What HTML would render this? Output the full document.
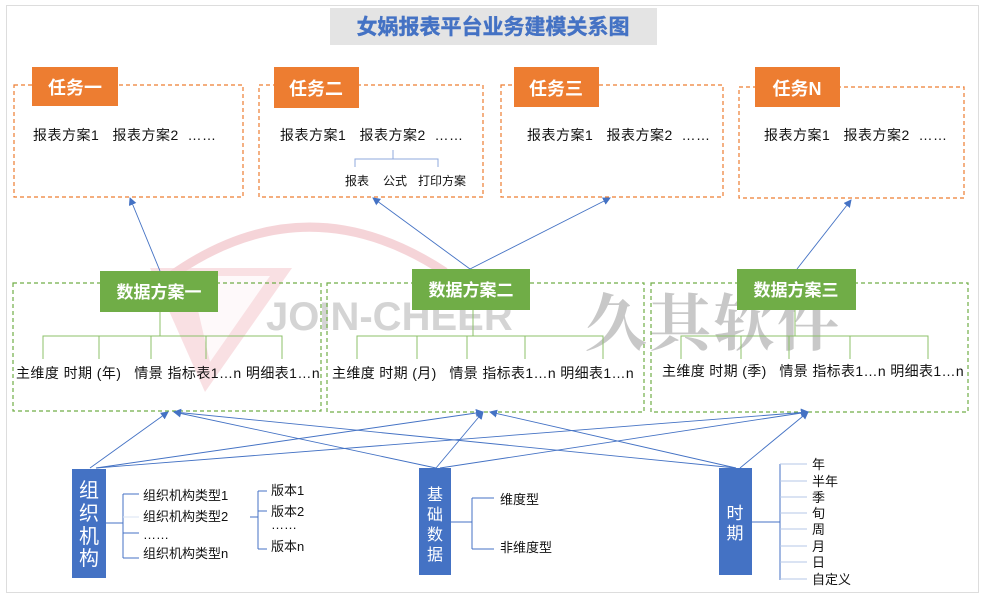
<!DOCTYPE html>
<html><head><meta charset="utf-8"><style>
html,body{margin:0;padding:0;background:#fff;}
svg{display:block;font-family:"Liberation Sans","Noto Sans CJK SC",sans-serif;}
</style></head><body>
<svg width="989" height="600" viewBox="0 0 989 600" xmlns="http://www.w3.org/2000/svg">
<defs>
<marker id="ar" markerWidth="8" markerHeight="8" refX="7" refY="4" orient="auto" markerUnits="userSpaceOnUse">
<path d="M0,0 L8,4 L0,8 z" fill="#4472c4"/></marker>
</defs>
<rect x="6.5" y="5.5" width="972" height="587" fill="#fff" stroke="#ddd"/>
<!-- watermark -->
<path d="M140,300 Q290,170 445,272" fill="none" stroke="#f3c9ce" stroke-width="9" opacity="0.8"/>
<polygon points="150,268 292,268 205,392" fill="#f6d3d7" opacity="0.7"/>
<polygon points="190,276 270,276 210,362" fill="#fff" opacity="0.8"/>
<text x="266" y="330" font-size="40" font-weight="bold" fill="#d4d4d4">JOIN-CHEER</text>
<text x="585" y="345" font-size="62" font-weight="bold" fill="#c8c8c8" font-family="'Noto Serif CJK SC',serif" letter-spacing="2">久其软件</text>
<!-- title -->
<rect x="330" y="8" width="327" height="37" fill="#e4e4e4"/>
<text x="493" y="34" font-size="21" font-weight="bold" fill="#4472c4" text-anchor="middle" stroke="#4472c4" stroke-width="0.4">女娲报表平台业务建模关系图</text>
<!-- task boxes -->
<g fill="none" stroke="#ed7d31" stroke-dasharray="4,3" stroke-width="1.2">
<rect x="14" y="85" width="229" height="112"/>
<rect x="259" y="85" width="224" height="112"/>
<rect x="501" y="85" width="222" height="112"/>
<rect x="739" y="87" width="225" height="111"/>
</g>
<g fill="#ed7d31">
<rect x="32" y="67" width="86" height="39"/>
<rect x="274" y="67" width="85" height="41"/>
<rect x="514" y="67" width="85" height="40"/>
<rect x="755" y="67" width="85" height="40"/>
</g>
<g fill="#fff" font-size="18" font-weight="bold" text-anchor="middle">
<text x="75" y="94">任务一</text><text x="316" y="95">任务二</text><text x="556" y="95">任务三</text><text x="797" y="95">任务N</text>
</g>
<g font-size="14" fill="#111" letter-spacing="0.5">
<text x="33" y="140">报表方案1 &#160; 报表方案2 &#160;……</text>
<text x="280" y="140">报表方案1 &#160; 报表方案2 &#160;……</text>
<text x="527" y="140">报表方案1 &#160; 报表方案2 &#160;……</text>
<text x="764" y="140">报表方案1 &#160; 报表方案2 &#160;……</text>
</g>
<g stroke="#8faadc" fill="none"><path d="M355,167 V159 H438 V167 M393,150 V159"/></g>
<g font-size="12" fill="#111"><text x="345" y="185">报表</text><text x="383" y="185">公式</text><text x="418" y="185">打印方案</text></g>
<!-- data boxes -->
<g fill="none" stroke="#70ad47" stroke-dasharray="4,3" stroke-width="1.2">
<rect x="13" y="283" width="308" height="128"/>
<rect x="327" y="283" width="317" height="129"/>
<rect x="651" y="283" width="317" height="129"/>
</g>
<g fill="#70ad47">
<rect x="100" y="271" width="118" height="41"/>
<rect x="412" y="269" width="118" height="41"/>
<rect x="737" y="269" width="119" height="41"/>
</g>
<g fill="#fff" font-size="17" font-weight="bold" text-anchor="middle">
<text x="159" y="298">数据方案一</text><text x="471" y="296">数据方案二</text><text x="796" y="296">数据方案三</text>
</g>
<g stroke="#8cc06a" fill="none">
<path d="M160,312 V336 M43,359 V336 H282 V359 M99,336 V359 M151,336 V359 M206,336 V359"/>
<path d="M473,310 V336 M357,359 V336 H603 V359 M417,336 V359 M467,336 V359 M525,336 V359"/>
<path d="M795,310 V336 M681,359 V336 H928 V359 M741,336 V359 M789,336 V359 M850,336 V359"/>
</g>
<g font-size="14" fill="#111" letter-spacing="0.4">
<text x="16" y="378" textLength="304">主维度 时期 (年) &#160; 情景 指标表1…n 明细表1…n</text>
<text x="332" y="378" textLength="302">主维度 时期 (月) &#160; 情景 指标表1…n 明细表1…n</text>
<text x="662" y="376" textLength="302">主维度 时期 (季) &#160; 情景 指标表1…n 明细表1…n</text>
</g>
<!-- arrows -->
<g stroke="#4472c4" stroke-width="0.9" fill="none" marker-end="url(#ar)">
<line x1="160" y1="271" x2="130" y2="198"/>
<line x1="470" y1="269" x2="373" y2="198"/>
<line x1="470" y1="269" x2="610" y2="198"/>
<line x1="797" y1="269" x2="851" y2="200"/>
<line x1="90" y1="468" x2="168" y2="412"/>
<line x1="96" y1="468" x2="483" y2="412"/>
<line x1="96" y1="468" x2="808" y2="412"/>
<line x1="436" y1="468" x2="174" y2="412"/>
<line x1="436" y1="468" x2="483" y2="412"/>
<line x1="440" y1="468" x2="808" y2="412"/>
<line x1="736" y1="468" x2="174" y2="412"/>
<line x1="736" y1="468" x2="490" y2="412"/>
<line x1="740" y1="468" x2="808" y2="412"/>
</g>
<!-- bottom boxes -->
<g fill="#4472c4">
<rect x="72" y="469" width="34" height="109"/>
<rect x="419" y="468" width="32" height="107"/>
<rect x="719" y="468" width="33" height="107"/>
</g>
<g fill="#fff" text-anchor="middle">
<text font-size="20" x="89" y="497">组</text><text font-size="20" x="89" y="520">织</text><text font-size="20" x="89" y="543">机</text><text font-size="20" x="89" y="565">构</text>
<text font-size="16" x="435" y="500">基</text><text font-size="16" x="435" y="520">础</text><text font-size="16" x="435" y="540">数</text><text font-size="16" x="435" y="560">据</text>
<text font-size="17" x="735" y="519">时</text><text font-size="17" x="735" y="539">期</text>
</g>
<g stroke="#4472c4" fill="none">
<path d="M106,523 H123 M123,494 V558 M123,494 H139 M123,533 H139 M123,558 H139"/>
<path d="M250,517 H258 M258,491 V549 M258,491 H267 M258,511 H267 M258,549 H267"/>
<path d="M451,522 H472 M472,498 V549 M472,498 H494 M472,549 H494"/>
<path d="M752,522 H780 M780,464 V580"/>
<path d="M780,464 H807 M780,481 H807 M780,497 H807 M780,513 H807 M780,529 H807 M780,546 H807 M780,562 H807 M780,579 H807" stroke="#b4c7e7"/>
</g>
<path d="M123,517 H139" stroke="#dae3f3"/>
<g font-size="13" fill="#111">
<text x="143" y="500">组织机构类型1</text><text x="143" y="521">组织机构类型2</text><text x="143" y="539">……</text><text x="143" y="558">组织机构类型n</text>
<text x="271" y="495">版本1</text><text x="271" y="516">版本2</text><text x="271" y="529">……</text><text x="271" y="551">版本n</text>
<text x="500" y="504">维度型</text><text x="500" y="552">非维度型</text>
<text x="812" y="469">年</text><text x="812" y="486">半年</text><text x="812" y="502">季</text><text x="812" y="518">旬</text><text x="812" y="534">周</text><text x="812" y="551">月</text><text x="812" y="567">日</text><text x="812" y="584">自定义</text>
</g>
</svg>
</body></html>
